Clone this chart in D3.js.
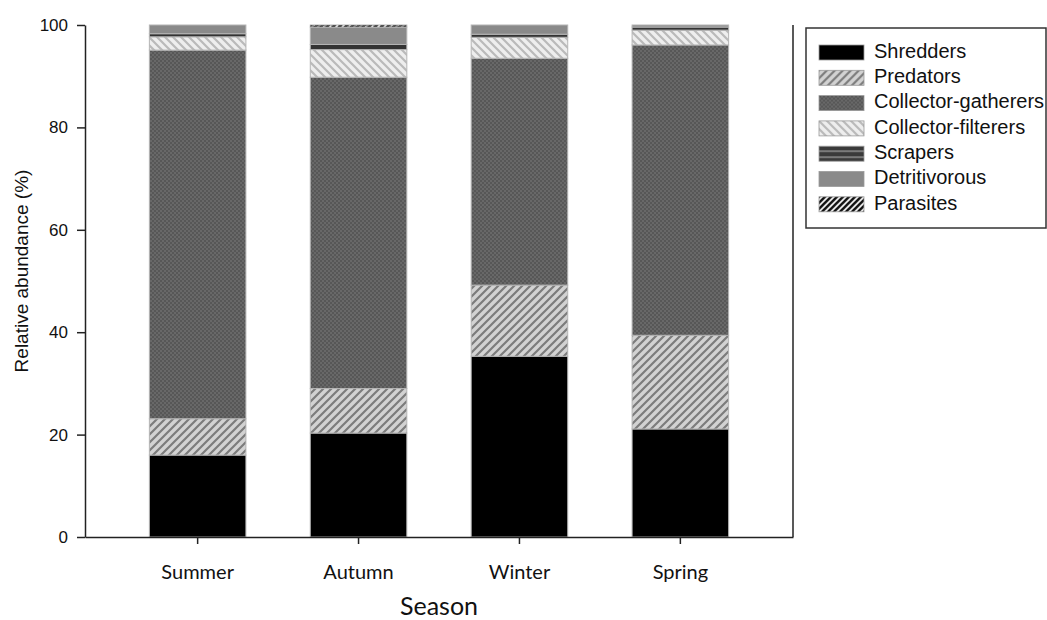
<!DOCTYPE html>
<html>
<head>
<meta charset="utf-8">
<script src="https://cdn.jsdelivr.net/npm/d3@7"></script>
<style>
  html, body { margin: 0; padding: 0; background: #fff; }
  svg { display: block; }
</style>
</head>
<body>
<svg id="chart" width="1047" height="620"></svg>
<script>
// Relative abundance (%) of functional feeding groups per season
const seasons = ["Summer", "Autumn", "Winter", "Spring"];
const groups = ["Shredders", "Predators", "Collector-gatherers", "Collector-filterers",
                "Scrapers", "Detritivorous", "Parasites"];
const shredders          = [16.0, 20.3, 35.3, 21.1];
const predators          = [7.1, 8.7, 13.9, 18.3];
const collectorGatherers = [72.0, 60.8, 44.3, 56.7];
const collectorFilterers = [2.6, 5.4, 4.1, 2.9];
const scrapers           = [0.6, 1.0, 0.6, 0.6];
const detritivorous      = [1.7, 3.4, 1.8, 0.4];
const parasites          = [0.0, 0.4, 0.0, 0.0];
const yTicks = [0, 20, 40, 60, 80, 100];

const seriesValues = [shredders, predators, collectorGatherers, collectorFilterers,
                      scrapers, detritivorous, parasites];
const rows = seasons.map((s, i) => {
  const r = { season: s };
  groups.forEach((g, k) => { r[g] = seriesValues[k][i]; });
  return r;
});

const svg = d3.select("#chart");
const plotLeft = 85, plotRight = 793, plotTop = 25, plotBottom = 537;

// Fill patterns for each feeding group
const defs = svg.append("defs");
function hatch(id, bg, stroke, width, size, dir) {
  const p = defs.append("pattern").attr("id", id).attr("patternUnits", "userSpaceOnUse")
    .attr("width", size).attr("height", size);
  p.append("rect").attr("width", size).attr("height", size).attr("fill", bg);
  const s = size;
  const d = dir === "/"
    ? `M${-s/4},${s/4} l${s/2},${-s/2} M0,${s} l${s},${-s} M${3*s/4},${5*s/4} l${s/2},${-s/2}`
    : `M${-s/4},${3*s/4} l${s/2},${s/2} M0,0 l${s},${s} M${3*s/4},${-s/4} l${s/2},${s/2}`;
  p.append("path").attr("d", d).attr("stroke", stroke).attr("stroke-width", width);
}
hatch("pPred", "#d2d2d2", "#7c7c7c", 2.2, 8, "/");
hatch("pFilt", "#eeeeee", "#bababa", 2.2, 8, "\\");
hatch("pPara", "#ffffff", "#111111", 2.6, 6, "/");
{
  const p = defs.append("pattern").attr("id", "pGath").attr("patternUnits", "userSpaceOnUse")
    .attr("width", 4).attr("height", 4);
  p.append("rect").attr("width", 4).attr("height", 4).attr("fill", "#686868");
  p.append("rect").attr("width", 2).attr("height", 2).attr("fill", "#575757");
  p.append("rect").attr("x", 2).attr("y", 2).attr("width", 2).attr("height", 2).attr("fill", "#575757");
}
{
  const p = defs.append("pattern").attr("id", "pScr").attr("patternUnits", "userSpaceOnUse")
    .attr("width", 6).attr("height", 6);
  p.append("rect").attr("width", 6).attr("height", 6).attr("fill", "#3a3a3a");
  p.append("rect").attr("y", 4).attr("width", 6).attr("height", 2).attr("fill", "#7a7a7a");
}
const fills = {
  "Shredders": "#000000",
  "Predators": "url(#pPred)",
  "Collector-gatherers": "url(#pGath)",
  "Collector-filterers": "url(#pFilt)",
  "Scrapers": "#333333",
  "Detritivorous": "#8a8a8a",
  "Parasites": "url(#pPara)"
};
const legendFills = Object.assign({}, fills, { "Scrapers": "url(#pScr)" });

const x = d3.scaleBand().domain(seasons).range([plotLeft, plotRight]).padding(0.4);
const y = d3.scaleLinear().domain([0, 100]).range([plotBottom, plotTop]);

const stacked = d3.stack().keys(groups)(rows);

svg.append("g").selectAll("g").data(stacked).join("g")
  .attr("fill", d => fills[d.key])
  .selectAll("rect").data(d => d).join("rect")
  .attr("x", d => x(d.data.season))
  .attr("width", x.bandwidth())
  .attr("y", d => y(d[1]))
  .attr("height", d => Math.max(0, y(d[0]) - y(d[1])))
  .attr("stroke", "#b4b4b4")
  .attr("stroke-width", d => (d[1] - d[0]) > 0 ? 1 : 0);

// Parasites appear as a dashed cap where present
svg.append("g").selectAll("line")
  .data(stacked[groups.indexOf("Parasites")].filter(d => d[1] - d[0] > 0))
  .join("line")
  .attr("x1", d => x(d.data.season)).attr("x2", d => x(d.data.season) + x.bandwidth())
  .attr("y1", d => y(d[1]) + 1).attr("y2", d => y(d[1]) + 1)
  .attr("stroke", "#444").attr("stroke-width", 1.2).attr("stroke-dasharray", "4,3");

// Axes
const yAxis = svg.append("g").attr("transform", `translate(${plotLeft},0)`)
  .call(d3.axisLeft(y).tickValues(yTicks).tickSize(8).tickSizeOuter(0).tickPadding(9));
yAxis.selectAll("text").attr("font-family", "Liberation Sans, Arial, sans-serif")
  .attr("font-size", 17).attr("fill", "#111");

const xAxis = svg.append("g").attr("transform", `translate(0,${plotBottom})`)
  .call(d3.axisBottom(x).tickSize(7).tickSizeOuter(0).tickPadding(21));
xAxis.selectAll("text").attr("font-family", "Lato, 'Open Sans', sans-serif")
  .attr("font-size", 20).attr("fill", "#111");

[yAxis, xAxis].forEach(a => {
  a.select(".domain").attr("stroke", "#222").attr("stroke-width", 1.5);
  a.selectAll(".tick line").attr("stroke", "#222").attr("stroke-width", 1.5);
});

// Right frame line
svg.append("line").attr("x1", plotRight).attr("x2", plotRight)
  .attr("y1", y(100)).attr("y2", plotBottom)
  .attr("stroke", "#222").attr("stroke-width", 1.5);

// Axis titles
svg.append("text").attr("transform", "translate(23,271) rotate(-90)")
  .attr("text-anchor", "middle").attr("dominant-baseline", "middle")
  .attr("font-family", "Liberation Sans, Arial, sans-serif").attr("font-size", 19)
  .attr("fill", "#111").text("Relative abundance (%)");
svg.append("text").attr("x", (plotLeft + plotRight) / 2).attr("y", 615)
  .attr("text-anchor", "middle")
  .attr("font-family", "Lato, 'Open Sans', sans-serif").attr("font-size", 25)
  .attr("fill", "#111").text("Season");

// Legend
const lg = svg.append("g");
lg.append("rect").attr("x", 806).attr("y", 28).attr("width", 240).attr("height", 200)
  .attr("fill", "#fff").attr("stroke", "#333").attr("stroke-width", 1.5);
const item = lg.selectAll("g.item").data(groups).join("g").attr("class", "item")
  .attr("transform", (d, i) => `translate(819,${45 + i * 25.3})`);
item.append("rect").attr("width", 45).attr("height", 15)
  .attr("fill", d => legendFills[d]).attr("stroke", "#999").attr("stroke-width", 0.8);
item.append("text").attr("x", 55).attr("y", 7.5).attr("dominant-baseline", "middle")
  .attr("font-family", "Liberation Sans, Arial, sans-serif").attr("font-size", 20)
  .attr("fill", "#111").text(d => d);
</script>
</body>
</html>
